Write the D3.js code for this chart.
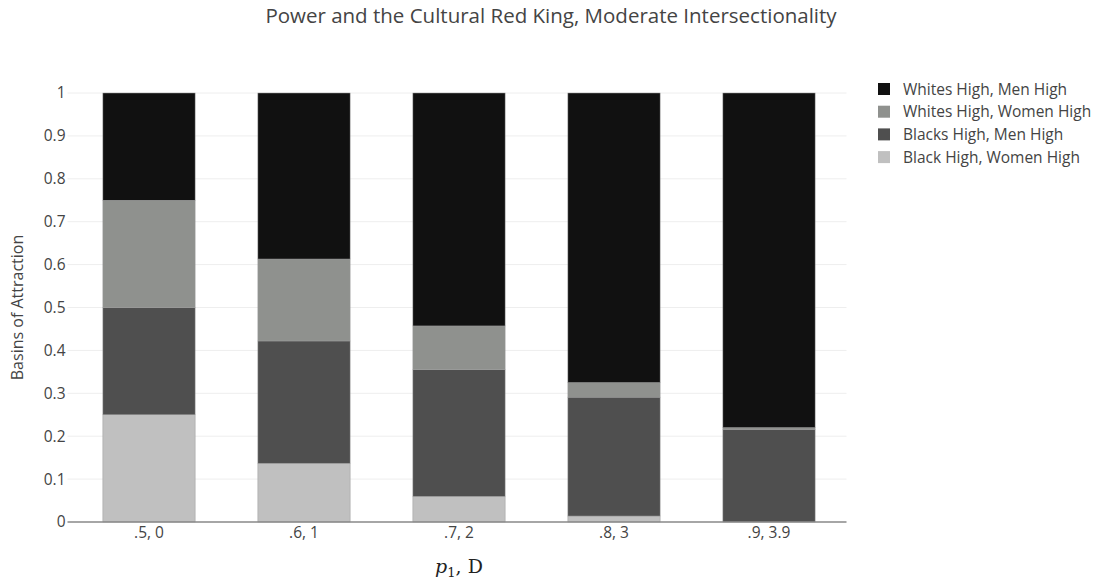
<!DOCTYPE html>
<html>
<head>
<meta charset="utf-8">
<script src="https://cdn.jsdelivr.net/npm/d3@7"></script>
<style>
  body { margin: 0; background: #fff; }
  svg { font-family: "Open Sans", "Noto Sans", sans-serif; }
</style>
</head>
<body>
<svg id="chart" width="1100" height="580"></svg>
<script>
const categories = [".5, 0", ".6, 1", ".7, 2", ".8, 3", ".9, 3.9"];
const seriesNames = ["Black High, Women High", "Blacks High, Men High", "Whites High, Women High", "Whites High, Men High"];
const blackWomen = [0.25, 0.137, 0.06, 0.014, 0.0];
const blackMen   = [0.25, 0.285, 0.295, 0.277, 0.216];
const whiteWomen = [0.25, 0.191, 0.102, 0.034, 0.004];
const whiteMen   = [0.25, 0.387, 0.543, 0.675, 0.78];
const yTicks = [0, 0.1, 0.2, 0.3, 0.4, 0.5, 0.6, 0.7, 0.8, 0.9, 1];
const colors = ["#c0c0c0", "#4f4f4f", "#8f918e", "#111111"];

const seriesValues = [blackWomen, blackMen, whiteWomen, whiteMen];
const rows = categories.map((c, i) => {
  const r = { cat: c };
  seriesNames.forEach((s, k) => r[s] = seriesValues[k][i]);
  return r;
});

const svg = d3.select("#chart");
const margin = { left: 71.5, right: 253.5, top: 93, bottom: 58 };
const W = 1100, H = 580;
const x = d3.scaleBand().domain(categories).range([margin.left, W - margin.right]).paddingInner(0.405).paddingOuter(0.2025);
const y = d3.scaleLinear().domain([0, 1]).range([H - margin.bottom, margin.top]);

// gridlines
svg.append("g").selectAll("line").data(yTicks.slice(1)).join("line")
  .attr("x1", margin.left - 4).attr("x2", W - margin.right)
  .attr("y1", d => y(d)).attr("y2", d => y(d))
  .attr("stroke", "#eee").attr("stroke-width", 1);

// stacks
const stack = d3.stack().keys(seriesNames)(rows);
svg.append("g").selectAll("g").data(stack).join("g")
  .attr("fill", (d, i) => colors[i])
  .selectAll("rect").data(d => d).join("rect")
  .attr("x", d => x(d.data.cat))
  .attr("width", x.bandwidth())
  .attr("y", d => y(d[1]))
  .attr("height", d => Math.max(0, y(d[0]) - y(d[1])))
  .attr("stroke", "#9a9a9a").attr("stroke-width", 0.5);

// y axis
const yAxis = d3.axisLeft(y).tickValues(yTicks).tickSize(0).tickPadding(6)
  .tickFormat(d => d === 0 ? "0" : d === 1 ? "1" : d3.format(".1f")(d));
const gy = svg.append("g").attr("transform", `translate(${margin.left},0)`).call(yAxis);
gy.select(".domain").remove();
gy.selectAll("text").attr("font-size", 15.5).attr("fill", "#444").attr("font-family", "Open Sans");

// x axis
const xAxis = d3.axisBottom(x).tickSize(0).tickPadding(5);
const gx = svg.append("g").attr("transform", `translate(0,${y(0)})`).call(xAxis);
gx.select(".domain").attr("stroke", "#888").attr("stroke-width", 1.5)
  .attr("d", `M${margin.left - 4},0H${W - margin.right}`);
gx.selectAll("text").attr("font-size", 15.5).attr("fill", "#444").attr("font-family", "Open Sans");

// title
svg.append("text").attr("x", 551).attr("y", 23).attr("text-anchor", "middle")
  .attr("font-size", 20.5).attr("fill", "#444").text("Power and the Cultural Red King, Moderate Intersectionality");

// y title
svg.append("text").attr("transform", `translate(23,${(y(0) + y(1)) / 2}) rotate(-90)`)
  .attr("text-anchor", "middle").attr("font-size", 16).attr("fill", "#444").text("Basins of Attraction");

// x title (math style)
const xt = svg.append("text").attr("x", (margin.left + W - margin.right) / 2).attr("y", 573)
  .attr("text-anchor", "middle").attr("font-family", "DejaVu Serif, Liberation Serif, serif").attr("font-size", 19).attr("fill", "#222");
xt.append("tspan").attr("font-style", "italic").text("p");
xt.append("tspan").attr("font-size", 13).attr("dy", 4).text("1");
xt.append("tspan").attr("dy", -4).text(", D");

// legend
const legendOrder = [3, 2, 1, 0];
const lg = svg.append("g").attr("transform", "translate(878,89)");
legendOrder.forEach((k, i) => {
  const g = lg.append("g").attr("transform", `translate(0,${i * 22.7})`);
  g.append("rect").attr("x", 0).attr("y", -6).attr("width", 12).attr("height", 12).attr("fill", colors[k]);
  g.append("text").attr("x", 25).attr("y", 5.5).attr("font-size", 15.5).attr("fill", "#444").text(seriesNames[k]);
});
</script>
</body>
</html>
